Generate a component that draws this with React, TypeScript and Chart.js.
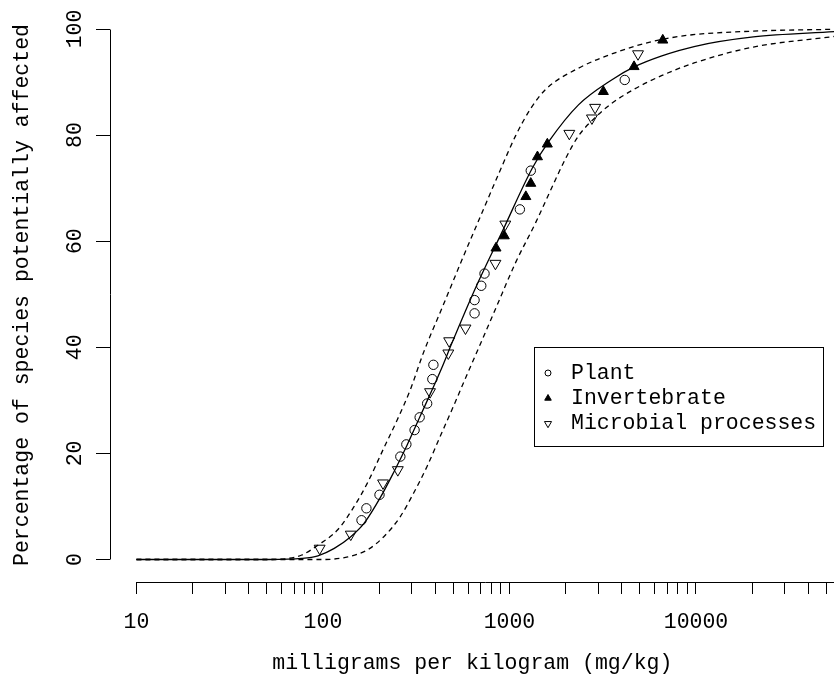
import React, { useEffect, useRef } from 'react';
import { Chart, registerables } from 'chart.js';
import { drawPoint } from 'chart.js/helpers';

Chart.register(...registerables);

const FONT = "'Liberation Mono', 'Courier New', monospace";
const FONT_SIZE = 21.5;

// ---- Observed species data (mg/kg, % affected) ----
const plantX = [161, 171, 201, 260, 280, 310, 330, 362, 386, 391, 650, 650, 706, 735, 1137, 1301, 4150];
const plantY = [7.4, 9.65, 12.2, 19.4, 21.7, 24.4, 26.8, 29.4, 34.0, 36.7, 46.4, 48.9, 51.6, 53.9, 66.0, 73.3, 90.4];

const invertX = [847, 938, 1224, 1301, 1413, 1596, 3187, 4655, 6638];
const invertY = [58.7, 61.0, 68.4, 70.9, 75.9, 78.3, 88.2, 92.9, 97.9];

const microbX = [96, 141, 210, 252, 375, 470, 475, 581, 841, 950, 2094, 2768, 2878, 4890];
const microbY = [2.1, 4.75, 14.4, 16.9, 31.6, 38.9, 41.2, 43.6, 55.8, 63.2, 80.3, 83.2, 85.2, 95.3];

// ---- Fitted curve and confidence bands ----
const fitX = [10, 51, 77, 94, 115, 141, 166, 204, 240, 282, 332, 391, 442, 489, 664, 920, 1327, 1626, 2344, 3529, 4690, 6504, 9770, 20300, 55000];
const fitY = [0, 0, 0.2, 0.7, 2.1, 4.3, 6.8, 11.8, 16.5, 21.5, 27.0, 32.5, 36.8, 40.6, 51.5, 62.0, 73.8, 78.8, 85.7, 90.4, 92.9, 94.9, 96.7, 98.5, 99.5];

const upperX = [10, 50, 65, 77, 94, 120, 147, 173, 212, 250, 294, 346, 442, 564, 721, 883, 1083, 1300, 1562, 2339, 3810, 5779, 8970, 20300, 55000];
const upperY = [0, 0, 0.2, 0.85, 2.7, 5.6, 10, 14.4, 21.0, 26.3, 32.0, 39.0, 48.0, 57.0, 65.8, 73.0, 80.0, 85.0, 88.6, 92.6, 95.7, 97.6, 98.8, 99.6, 99.95];

const lowerX = [10, 100, 136, 173, 212, 260, 306, 361, 424, 501, 588, 706, 848, 1083, 1382, 1681, 1994, 2339, 2878, 3540, 4690, 6530, 9770, 20300, 55000];
const lowerY = [0, 0, 0.5, 1.8, 4.3, 8.1, 12.5, 17.5, 23.1, 28.9, 34.6, 41.0, 47.5, 56.1, 63.5, 70.0, 75.5, 79.8, 83.3, 86.0, 88.7, 91.2, 93.6, 96.6, 98.6];

// ---- Axes ----
const xTickValues = [
  10, 20, 30, 40, 50, 60, 70, 80, 90,
  100, 200, 300, 400, 500, 600, 700, 800, 900,
  1000, 2000, 3000, 4000, 5000, 6000, 7000, 8000, 9000,
  10000, 20000, 30000, 40000, 50000,
];
const xTickLabels = ['10', '100', '1000', '10000'];
const yTickValues = [0, 20, 40, 60, 80, 100];
const xTitle = 'milligrams per kilogram (mg/kg)';
const yTitle = 'Percentage of species potentially affected';
const seriesNames = ['Plant', 'Invertebrate', 'Microbial processes'];

const zip = (xs: number[], ys: number[]) => xs.map((x, i) => ({ x, y: ys[i] }));

const alignPx = (p: number) => Math.round(p - 0.5) + 0.5;

const axesAndLegend = {
  id: 'axesAndLegend',
  afterDraw(chart: any) {
    const { ctx, chartArea, scales } = chart;
    const xs = scales.x;
    const ys = scales.y;
    ctx.save();
    ctx.strokeStyle = '#000';
    ctx.lineWidth = 1;
    ctx.setLineDash([]);
    // y axis line (spans first to last tick)
    const ax = Math.round(chartArea.left) + 0.5;
    ctx.beginPath();
    ctx.moveTo(ax, alignPx(ys.getPixelForValue(yTickValues[0])));
    ctx.lineTo(ax, alignPx(ys.getPixelForValue(yTickValues[yTickValues.length - 1])));
    ctx.stroke();
    // x axis line
    const ay = Math.round(chartArea.bottom) + 0.5;
    ctx.beginPath();
    ctx.moveTo(Math.round(xs.getPixelForValue(xTickValues[0])), ay);
    ctx.lineTo(chartArea.right, ay);
    ctx.stroke();

    // legend box
    const box = { left: 534, top: 347, right: 823, bottom: 446 };
    ctx.strokeStyle = '#000';
    ctx.strokeRect(box.left + 0.5, box.top + 0.5, box.right - box.left, box.bottom - box.top);
    const rows = [373, 398.3, 423.6];
    const symRadius = [3.0, 3.8, 4.1];
    const symX = 548;
    const textX = 571;
    ctx.font = `${FONT_SIZE}px ${FONT}`;
    ctx.textBaseline = 'middle';
    ctx.textAlign = 'left';
    chart.data.datasets.slice(0, 3).forEach((ds: any, i: number) => {
      ctx.save();
      ctx.fillStyle = ds.backgroundColor;
      ctx.strokeStyle = ds.borderColor;
      ctx.lineWidth = 1;
      drawPoint(ctx, {
        pointStyle: ds.pointStyle,
        rotation: ds.pointRotation || 0,
        radius: symRadius[i],
        borderWidth: 1,
      } as any, symX, rows[i]);
      ctx.restore();
      ctx.fillStyle = '#000';
      ctx.fillText(seriesNames[i], textX, rows[i]);
    });
    ctx.restore();
  },
};

export default function App() {
  const canvasRef = useRef<HTMLCanvasElement | null>(null);

  useEffect(() => {
    if (!canvasRef.current) return;
    Chart.defaults.font.family = FONT;
    Chart.defaults.font.size = FONT_SIZE;
    Chart.defaults.color = '#000';

    const axisFont = { family: FONT, size: FONT_SIZE };
    const chart = new Chart(canvasRef.current, {
      type: 'scatter',
      data: {
        datasets: [
          {
            label: seriesNames[0],
            data: zip(plantX, plantY),
            pointStyle: 'circle',
            pointRadius: 4.7,
            borderColor: '#000',
            backgroundColor: 'rgba(0,0,0,0)',
            borderWidth: 1,
            showLine: false,
          },
          {
            label: seriesNames[1],
            data: zip(invertX, invertY),
            pointStyle: 'triangle',
            pointRadius: 5.8,
            borderColor: '#000',
            backgroundColor: '#000',
            borderWidth: 1,
            showLine: false,
          },
          {
            label: seriesNames[2],
            data: zip(microbX, microbY),
            pointStyle: 'triangle',
            pointRotation: 180,
            pointRadius: 6.3,
            borderColor: '#000',
            backgroundColor: 'rgba(0,0,0,0)',
            borderWidth: 1,
            showLine: false,
          },
          {
            type: 'line',
            label: 'fit',
            data: zip(fitX, fitY),
            borderColor: '#000',
            borderWidth: 1.3,
            pointRadius: 0,
            fill: false,
            cubicInterpolationMode: 'monotone',
          },
          {
            type: 'line',
            label: 'upper',
            data: zip(upperX, upperY),
            borderColor: '#000',
            borderWidth: 1.3,
            borderDash: [5, 4],
            pointRadius: 0,
            fill: false,
            cubicInterpolationMode: 'monotone',
          },
          {
            type: 'line',
            label: 'lower',
            data: zip(lowerX, lowerY),
            borderColor: '#000',
            borderWidth: 1.3,
            borderDash: [5, 4],
            pointRadius: 0,
            fill: false,
            cubicInterpolationMode: 'monotone',
          },
        ] as any,
      },
      options: {
        animation: false,
        responsive: false,
        events: [],
        layout: { padding: { top: 8, right: 0, bottom: 0, left: 0 } },
        plugins: { legend: { display: false }, tooltip: { enabled: false } },
        scales: {
          x: {
            type: 'logarithmic',
            position: 'bottom',
            bounds: 'data',
            min: 7.216,
            max: 55430,
            afterBuildTicks: (s: any) => {
              s.ticks = xTickValues.map((v) => ({ value: v }));
            },
            afterFit: (s: any) => {
              s.height = 99;
              s.paddingLeft = 0;
              s.paddingRight = 0;
            },
            ticks: {
              autoSkip: false,
              minRotation: 0,
              maxRotation: 0,
              padding: 15,
              color: '#000',
              font: axisFont,
              callback: (v: any) => (xTickLabels.includes(String(v)) ? String(v) : ''),
            },
            grid: { display: true, drawOnChartArea: false, drawTicks: true, tickLength: 12, color: '#000', lineWidth: 1 },
            border: { display: false },
            title: { display: true, text: xTitle, color: '#000', font: axisFont, padding: { top: 0, bottom: 5 } },
          },
          y: {
            type: 'linear',
            position: 'left',
            bounds: 'data',
            min: -4.24,
            max: 103.96,
            afterBuildTicks: (s: any) => {
              s.ticks = yTickValues.map((v) => ({ value: v }));
            },
            afterFit: (s: any) => {
              s.width = 110;
              s.paddingTop = 0;
              s.paddingBottom = 0;
            },
            ticks: {
              autoSkip: false,
              minRotation: 90,
              maxRotation: 90,
              crossAlign: 'center',
              padding: 1,
              color: '#000',
              font: axisFont,
              callback: (v: any) => String(v),
            },
            grid: { display: true, drawOnChartArea: false, drawTicks: true, tickLength: 14, color: '#000', lineWidth: 1 },
            border: { display: false },
            title: { display: true, text: yTitle, color: '#000', font: axisFont, padding: { top: 9, bottom: 0 } },
          },
        },
      } as any,
      plugins: [axesAndLegend],
    });
    return () => chart.destroy();
  }, []);

  return (
    <div style={{ position: 'absolute', left: 0, top: 0, width: 834, height: 681, overflow: 'hidden', background: '#fff' }}>
      <canvas ref={canvasRef} width={842} height={681} style={{ display: 'block' }} />
    </div>
  );
}
